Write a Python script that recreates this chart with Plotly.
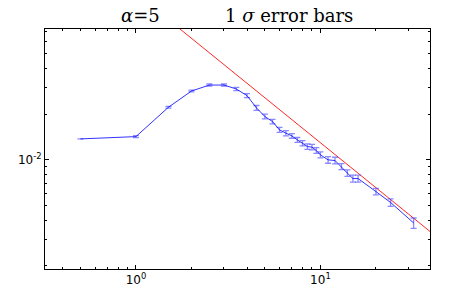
import plotly.graph_objects as go

# data
x_vals = [0.5, 1.0, 1.5, 2.0, 2.5, 3.0, 3.5, 4.0, 4.5, 5.0, 5.5, 6.0, 6.5, 7.0, 7.5,
          8.0, 8.5, 9.0, 9.5, 10.0, 11.0, 12.0, 13.0, 14.0, 15.0, 16.0, 20.0, 24.0, 32.0]
y_vals = [0.01374, 0.01423, 0.0222, 0.0284, 0.0311, 0.0311, 0.0293, 0.0265, 0.0220,
          0.0193, 0.01787, 0.01575, 0.0150, 0.01438, 0.01354, 0.01288, 0.01223,
          0.01213, 0.01152, 0.01079, 0.0100, 0.00990, 0.00903, 0.00818, 0.00753,
          0.00753, 0.00618, 0.00524, 0.00384]
y_err = [0.0, 0.0002, 0.0003, 0.0004, 0.0005, 0.0005, 0.0007, 0.0008, 0.0008,
         0.0007, 0.0006, 0.0006, 0.0006, 0.0005, 0.0005, 0.0005, 0.0005,
         0.0005, 0.0005, 0.0005, 0.0005, 0.0005, 0.0004, 0.0004, 0.0004,
         0.0004, 0.0003, 0.0003, 0.0003]

ref_x = [1.0, 50.0]
ref_y = [0.125, 0.00266]

x_tickvals = [1, 10]
x_ticktext = ["10<sup>0</sup>", "10<sup>1</sup>"]
y_tickvals = [0.01]
y_ticktext = ["10<sup>-2</sup>"]

x_minor = [0.4, 0.5, 0.6, 0.7, 0.8, 0.9, 2, 3, 4, 5, 6, 7, 8, 9, 20, 30]
y_minor = [0.002, 0.003, 0.004, 0.005, 0.006, 0.007, 0.008, 0.009,
           0.02, 0.03, 0.04, 0.05, 0.06, 0.07]

fig = go.Figure()
fig.add_trace(go.Scatter(
    x=ref_x, y=ref_y, mode="lines",
    line=dict(color="rgba(255,0,0,0.85)", width=1),
    showlegend=False, hoverinfo="skip"))
fig.add_trace(go.Scatter(
    x=x_vals, y=y_vals, mode="lines",
    line=dict(color="rgba(0,0,255,0.8)", width=1),
    error_y=dict(type="data", array=y_err, visible=True,
                 color="rgba(60,60,255,0.6)", thickness=1.3, width=3),
    showlegend=False))

axis_common = dict(
    type="log", showgrid=False, zeroline=False, automargin=False,
    showline=True, linecolor="black", linewidth=1, mirror="allticks",
    ticks="inside", ticklen=4, tickwidth=1, tickcolor="black",
    tickfont=dict(family="DejaVu Sans", size=12, color="black"),
)

fig.update_xaxes(**axis_common, range=[-0.493, 1.594],
                 tickvals=x_tickvals, ticktext=x_ticktext,
                 minor=dict(tickvals=x_minor, ticks="inside", ticklen=2,
                            tickcolor="black", showgrid=False))
fig.update_yaxes(**axis_common, range=[-2.719, -1.138],
                 tickvals=y_tickvals, ticktext=y_ticktext,
                 minor=dict(tickvals=y_minor, ticks="inside", ticklen=2,
                            tickcolor="black", showgrid=False))

fig.add_annotation(text="<i>α</i>=5", xref="paper", x=(140 - 45) / 385, xanchor="center",
                   yref="paper", y=1, yanchor="bottom", yshift=1, showarrow=False,
                   font=dict(family="DejaVu Serif", size=18, color="black"))
fig.add_annotation(text="1 <i>σ</i> error bars", xref="paper", x=(289 - 45) / 385,
                   xanchor="center", yref="paper", y=1, yanchor="bottom", yshift=1,
                   showarrow=False,
                   font=dict(family="DejaVu Serif", size=18, color="black"))

fig.update_layout(
    width=452, height=290,
    margin=dict(l=45, r=22, t=29, b=21, autoexpand=False),
    paper_bgcolor="white", plot_bgcolor="white",
)

fig.write_html("out.html",
               config={"displayModeBar": False},
               post_script="document.body.style.margin='0px';document.body.style.padding='0px';")
